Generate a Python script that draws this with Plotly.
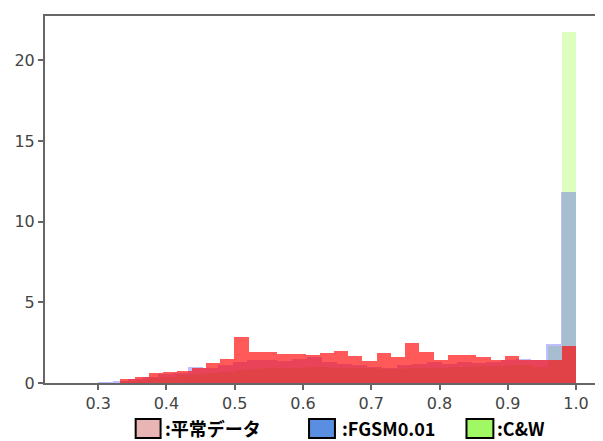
import numpy as np
import plotly.graph_objects as go

# ---- data (density histograms, 32 bins each) ----
red_label = ":平常データ"
blue_label = ":FGSM0.01"
green_label = ":C&W"

red_range = (0.3326, 1.0)
blue_range = (0.300, 1.0)
green_range = (0.3326, 1.0)

red_heights = [0.23, 0.35, 0.60, 0.68, 0.72, 0.90, 1.22, 1.47, 2.87, 1.90,
               1.90, 1.80, 1.80, 1.75, 1.85, 2.00, 1.65, 1.35, 1.85, 1.60,
               2.50, 1.90, 1.45, 1.75, 1.75, 1.60, 1.45, 1.70, 1.45, 1.45,
               1.40, 2.27]
blue_heights = [0.06, 0.10, 0.25, 0.40, 0.55, 0.65, 1.00, 0.95, 1.10, 1.30,
                1.40, 1.40, 1.35, 1.50, 1.60, 1.30, 1.20, 1.10, 1.00, 0.90,
                1.10, 1.20, 1.30, 1.20, 1.30, 1.25, 1.30, 1.40, 1.50, 1.45,
                2.40, 11.85]
green_heights = [0.10, 0.20, 0.30, 0.40, 0.50, 0.55, 0.60, 0.70, 0.80, 0.85,
                 0.90, 0.90, 0.95, 1.00, 1.00, 0.95, 0.90, 0.90, 0.85, 0.85,
                 0.90, 0.95, 0.95, 1.00, 1.00, 1.05, 1.05, 1.10, 1.10, 1.00,
                 2.30, 21.75]

x_tick_vals = [0.3, 0.4, 0.5, 0.6, 0.7, 0.8, 0.9, 1.0]
x_tick_text = ["0.3", "0.4", "0.5", "0.6", "0.7", "0.8", "0.9", "1.0"]
y_tick_vals = [0, 5, 10, 15, 20]
y_tick_text = ["0", "5", "10", "15", "20"]


def bar_trace(rng, heights, color):
    edges = np.linspace(rng[0], rng[1], len(heights) + 1)
    centers = (edges[:-1] + edges[1:]) / 2
    widths = np.diff(edges)
    return go.Bar(x=centers, y=heights, width=widths,
                  marker=dict(color=color, line=dict(width=0)),
                  showlegend=False, hoverinfo="skip")


fig = go.Figure()
fig.add_trace(bar_trace(green_range, green_heights, "rgba(124,252,0,0.25)"))
fig.add_trace(bar_trace(blue_range, blue_heights, "rgba(0,0,255,0.25)"))
fig.add_trace(bar_trace(red_range, red_heights, "rgba(255,0,0,0.65)"))

OFF = 8  # default page body margin
W, H = 603 - OFF, 441 - OFF
L, R, T, B = 45 - OFF, 2, 16 - OFF, 441 - 383
pw, ph = W - L - R, H - T - B

fig.update_layout(
    width=W, height=H,
    margin=dict(l=L, r=R, t=T, b=B),
    paper_bgcolor="white", plot_bgcolor="white",
    barmode="overlay", bargap=0,
    font=dict(family="DejaVu Sans", size=16, color="#444"),
)
fig.update_xaxes(range=[0.2222, 1.0336], tickvals=x_tick_vals, ticktext=x_tick_text,
                 showgrid=False, zeroline=False, showline=True, mirror=True,
                 linecolor="#666", linewidth=2, ticks="outside", ticklen=5,
                 tickcolor="#666", tickwidth=1.5)
fig.update_yaxes(range=[0, 22.74], tickvals=y_tick_vals, ticktext=y_tick_text,
                 showgrid=False, zeroline=False, showline=True, mirror=True,
                 linecolor="#666", linewidth=2, ticks="outside", ticklen=5,
                 tickcolor="#666", tickwidth=1.5)


def px_x(p):  # reference-image pixel -> paper coordinate
    return (p - OFF - L) / pw


def px_y(p):
    return (H - B - (p - OFF)) / ph


legend_items = [
    (136, 161, "#e8b4b4", red_label, 163),
    (310, 336, "#5a8ee0", blue_label, 341),
    (468, 495, "#a0f864", green_label, 497),
]
for x0, x1, col, label, tx in legend_items:
    fig.add_shape(type="rect", xref="paper", yref="paper",
                  x0=px_x(x0), x1=px_x(x1), y0=px_y(438), y1=px_y(419),
                  fillcolor=col, line=dict(color="black", width=2))
    fig.add_annotation(xref="paper", yref="paper", x=px_x(tx), y=px_y(428),
                       text="<b>" + label + "</b>", showarrow=False,
                       xanchor="left", yanchor="middle",
                       font=dict(family="Noto Sans CJK JP", size=18, color="black"))

fig.write_html("out.html")
